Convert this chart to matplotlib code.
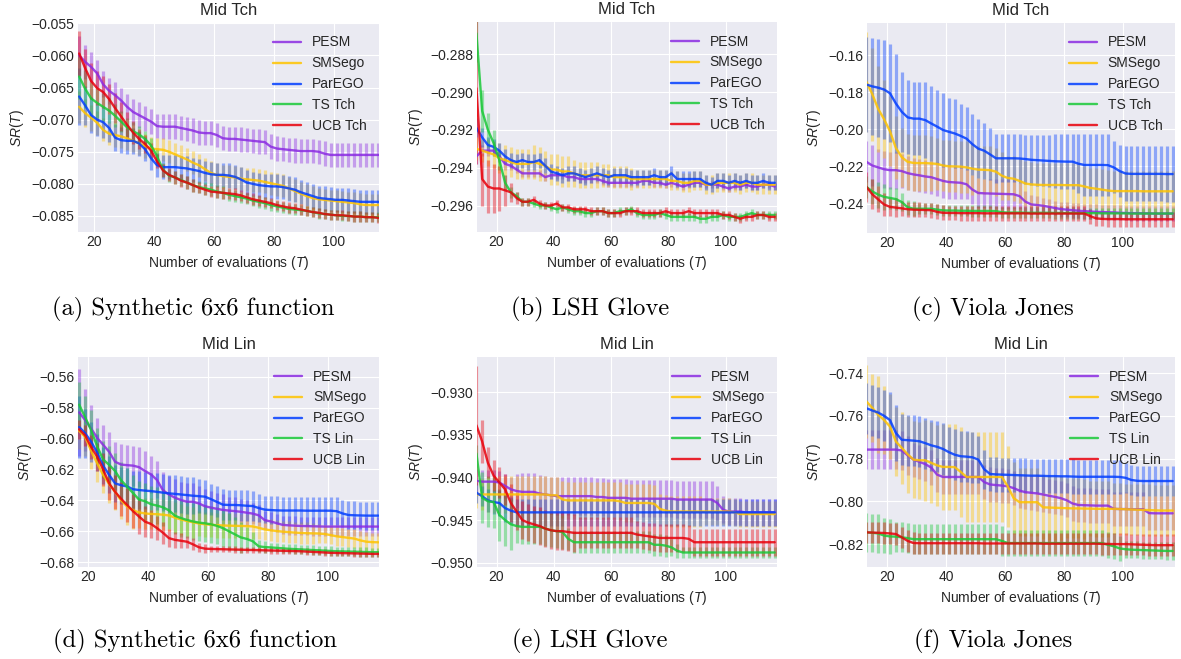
import numpy as np
import matplotlib
matplotlib.use("Agg")
import matplotlib.pyplot as plt
from matplotlib.ticker import MultipleLocator, ScalarFormatter

# simple regret curves, 6 runs: Tchebyshev row on top, linear row below
# every list is sampled every 2 evaluations

# ---- (a) synthetic 6x6, Tch, x = 15..115
a_pesm = [-0.0600, -0.0610, -0.0618, -0.0628, -0.0645, -0.0655, -0.0662, -0.0670, -0.0680, -0.0688,
          -0.0693, -0.0698, -0.0703, -0.0710, -0.0711, -0.0711, -0.0711, -0.0713, -0.0715, -0.0717,
          -0.0720, -0.0721, -0.0721, -0.0724, -0.0729, -0.0730, -0.0730, -0.0731, -0.0732, -0.0733,
          -0.0734, -0.0735, -0.0742, -0.0745, -0.0746, -0.0747, -0.0748, -0.0749, -0.0749, -0.0749,
          -0.0750, -0.0753, -0.0755, -0.0755, -0.0755, -0.0755, -0.0755, -0.0755, -0.0755, -0.0755,
          -0.0755]
a_pesm_err = [0.0030, 0.0027, 0.0023, 0.0021, 0.0020, 0.0020, 0.0020, 0.0020, 0.0020, 0.0020,
              0.0020, 0.0020, 0.0019, 0.0019, 0.0019, 0.0019, 0.0019, 0.0019, 0.0019, 0.0019,
              0.0019, 0.0019, 0.0019, 0.0019, 0.0019, 0.0019, 0.0019, 0.0019, 0.0019, 0.0019,
              0.0019, 0.0019, 0.0019, 0.0019, 0.0019, 0.0019, 0.0019, 0.0019, 0.0019, 0.0019,
              0.0019, 0.0019, 0.0019, 0.0019, 0.0019, 0.0019, 0.0019, 0.0019, 0.0019, 0.0019,
              0.0019]
a_smsego = [-0.0680, -0.0690, -0.0697, -0.0705, -0.0716, -0.0722, -0.0724, -0.0726, -0.0729, -0.0733,
            -0.0737, -0.0741, -0.0745, -0.0746, -0.0747, -0.0750, -0.0754, -0.0758, -0.0762, -0.0767,
            -0.0771, -0.0777, -0.0783, -0.0786, -0.0788, -0.0789, -0.0790, -0.0792, -0.0793, -0.0794,
            -0.0795, -0.0797, -0.0799, -0.0801, -0.0803, -0.0807, -0.0811, -0.0815, -0.0819, -0.0822,
            -0.0824, -0.0825, -0.0826, -0.0827, -0.0828, -0.0829, -0.0830, -0.0832, -0.0833, -0.0833,
            -0.0833]
a_smsego_err = [0.0025, 0.0022, 0.0020, 0.0019, 0.0018, 0.0018, 0.0018, 0.0018, 0.0018, 0.0018,
                0.0018, 0.0018, 0.0018, 0.0018, 0.0018, 0.0018, 0.0018, 0.0018, 0.0018, 0.0018,
                0.0018, 0.0018, 0.0018, 0.0018, 0.0018, 0.0018, 0.0018, 0.0018, 0.0018, 0.0018,
                0.0018, 0.0018, 0.0018, 0.0018, 0.0018, 0.0018, 0.0018, 0.0018, 0.0018, 0.0018,
                0.0017, 0.0017, 0.0017, 0.0017, 0.0017, 0.0017, 0.0017, 0.0017, 0.0017, 0.0017,
                0.0017]
a_parego = [-0.0664, -0.0678, -0.0693, -0.0700, -0.0704, -0.0713, -0.0728, -0.0732, -0.0733, -0.0733,
            -0.0737, -0.0746, -0.0760, -0.0771, -0.0774, -0.0774, -0.0774, -0.0775, -0.0776, -0.0778,
            -0.0780, -0.0783, -0.0785, -0.0786, -0.0786, -0.0787, -0.0789, -0.0793, -0.0798, -0.0800,
            -0.0802, -0.0803, -0.0804, -0.0804, -0.0805, -0.0807, -0.0809, -0.0813, -0.0816, -0.0819,
            -0.0822, -0.0823, -0.0824, -0.0825, -0.0825, -0.0826, -0.0827, -0.0828, -0.0828, -0.0828,
            -0.0828]
a_parego_err = [0.0045, 0.0030, 0.0028, 0.0026, 0.0024, 0.0022, 0.0021, 0.0020, 0.0020, 0.0020,
                0.0019, 0.0019, 0.0019, 0.0019, 0.0019, 0.0019, 0.0019, 0.0019, 0.0019, 0.0019,
                0.0019, 0.0019, 0.0019, 0.0019, 0.0019, 0.0019, 0.0019, 0.0019, 0.0019, 0.0019,
                0.0019, 0.0019, 0.0019, 0.0019, 0.0019, 0.0019, 0.0019, 0.0019, 0.0019, 0.0019,
                0.0019, 0.0019, 0.0019, 0.0019, 0.0019, 0.0019, 0.0019, 0.0019, 0.0019, 0.0019,
                0.0019]
a_ts = [-0.0633, -0.0652, -0.0667, -0.0674, -0.0680, -0.0686, -0.0694, -0.0703, -0.0712, -0.0718,
        -0.0723, -0.0730, -0.0740, -0.0757, -0.0778, -0.0787, -0.0790, -0.0794, -0.0798, -0.0802,
        -0.0805, -0.0807, -0.0809, -0.0812, -0.0814, -0.0817, -0.0819, -0.0821, -0.0823, -0.0826,
        -0.0828, -0.0830, -0.0833, -0.0835, -0.0837, -0.0839, -0.0840, -0.0841, -0.0842, -0.0844,
        -0.0846, -0.0847, -0.0848, -0.0849, -0.0850, -0.0850, -0.0851, -0.0851, -0.0852, -0.0852,
        -0.0852]
a_ts_err = [0.0035, 0.0030, 0.0026, 0.0024, 0.0022, 0.0020, 0.0018, 0.0016, 0.0015, 0.0014,
            0.0013, 0.0012, 0.0012, 0.0011, 0.0011, 0.0010, 0.0010, 0.0010, 0.0010, 0.0010,
            0.0010, 0.0010, 0.0010, 0.0010, 0.0010, 0.0009, 0.0009, 0.0009, 0.0009, 0.0009,
            0.0009, 0.0009, 0.0009, 0.0009, 0.0009, 0.0008, 0.0008, 0.0008, 0.0008, 0.0008,
            0.0008, 0.0008, 0.0008, 0.0008, 0.0008, 0.0008, 0.0008, 0.0008, 0.0008, 0.0008,
            0.0008]
a_ucb = [-0.0597, -0.0620, -0.0640, -0.0651, -0.0657, -0.0668, -0.0682, -0.0695, -0.0708, -0.0720,
         -0.0730, -0.0738, -0.0748, -0.0765, -0.0779, -0.0786, -0.0790, -0.0795, -0.0798, -0.0802,
         -0.0806, -0.0809, -0.0812, -0.0813, -0.0814, -0.0815, -0.0816, -0.0818, -0.0821, -0.0824,
         -0.0826, -0.0828, -0.0830, -0.0833, -0.0835, -0.0837, -0.0838, -0.0840, -0.0842, -0.0844,
         -0.0845, -0.0847, -0.0848, -0.0849, -0.0849, -0.0850, -0.0851, -0.0851, -0.0852, -0.0852,
         -0.0853]
a_ucb_err = [0.0035, 0.0030, 0.0028, 0.0026, 0.0025, 0.0024, 0.0023, 0.0022, 0.0020, 0.0018,
             0.0016, 0.0014, 0.0012, 0.0011, 0.0010, 0.0010, 0.0010, 0.0010, 0.0010, 0.0010,
             0.0009, 0.0009, 0.0009, 0.0009, 0.0009, 0.0009, 0.0009, 0.0009, 0.0009, 0.0009,
             0.0008, 0.0008, 0.0008, 0.0008, 0.0008, 0.0008, 0.0008, 0.0008, 0.0008, 0.0008,
             0.0008, 0.0008, 0.0008, 0.0008, 0.0008, 0.0008, 0.0008, 0.0008, 0.0008, 0.0008,
             0.0008]

# ---- (b) LSH Glove, Tch, x = 13..117
b_pesm = [-0.2934, -0.2931, -0.2931, -0.2931, -0.2934, -0.2938, -0.2939, -0.2941, -0.2943, -0.2943,
          -0.2943, -0.2943, -0.2945, -0.2944, -0.2944, -0.2944, -0.2945, -0.2945, -0.2946, -0.2946,
          -0.2946, -0.2946, -0.2947, -0.2948, -0.2948, -0.2948, -0.2948, -0.2948, -0.2948, -0.2947,
          -0.2947, -0.2948, -0.2948, -0.2949, -0.2948, -0.2949, -0.2950, -0.2949, -0.2948, -0.2948,
          -0.2949, -0.2949, -0.2949, -0.2950, -0.2951, -0.2950, -0.2950, -0.2949, -0.2950, -0.2950,
          -0.2949, -0.2949, -0.2950]
b_pesm_err = [0.0004, 0.0003, 0.0003, 0.0003, 0.0003, 0.0003, 0.0002, 0.0002, 0.0002, 0.0002,
              0.0002, 0.0002, 0.0002, 0.0002, 0.0002, 0.0002, 0.0002, 0.0002, 0.0002, 0.0002,
              0.0002, 0.0002, 0.0002, 0.0002, 0.0002, 0.0002, 0.0002, 0.0002, 0.0002, 0.0002,
              0.0002, 0.0002, 0.0002, 0.0002, 0.0002, 0.0002, 0.0002, 0.0002, 0.0002, 0.0002,
              0.0002, 0.0002, 0.0002, 0.0002, 0.0002, 0.0002, 0.0002, 0.0002, 0.0002, 0.0002,
              0.0002, 0.0002, 0.0002]
b_smsego = [-0.2930, -0.2931, -0.2932, -0.2933, -0.2935, -0.2936, -0.2937, -0.2938, -0.2938, -0.2938,
            -0.2937, -0.2938, -0.2939, -0.2941, -0.2941, -0.2942, -0.2942, -0.2943, -0.2944, -0.2944,
            -0.2944, -0.2944, -0.2944, -0.2944, -0.2945, -0.2945, -0.2945, -0.2946, -0.2946, -0.2946,
            -0.2946, -0.2946, -0.2946, -0.2946, -0.2947, -0.2947, -0.2948, -0.2948, -0.2947, -0.2947,
            -0.2949, -0.2949, -0.2948, -0.2948, -0.2948, -0.2948, -0.2949, -0.2948, -0.2948, -0.2949,
            -0.2949, -0.2949, -0.2949]
b_smsego_err = [0.0006, 0.0006, 0.0007, 0.0007, 0.0008, 0.0008, 0.0008, 0.0008, 0.0008, 0.0008,
                0.0009, 0.0009, 0.0008, 0.0008, 0.0008, 0.0008, 0.0008, 0.0007, 0.0007, 0.0007,
                0.0007, 0.0007, 0.0006, 0.0006, 0.0006, 0.0006, 0.0006, 0.0006, 0.0005, 0.0005,
                0.0005, 0.0005, 0.0005, 0.0005, 0.0005, 0.0005, 0.0005, 0.0005, 0.0005, 0.0005,
                0.0005, 0.0005, 0.0005, 0.0005, 0.0005, 0.0005, 0.0005, 0.0005, 0.0005, 0.0005,
                0.0005, 0.0005, 0.0005]
b_parego = [-0.2919, -0.2924, -0.2928, -0.2929, -0.2931, -0.2934, -0.2936, -0.2937, -0.2936, -0.2937,
            -0.2937, -0.2936, -0.2939, -0.2942, -0.2943, -0.2944, -0.2943, -0.2943, -0.2944, -0.2945,
            -0.2944, -0.2943, -0.2944, -0.2945, -0.2944, -0.2944, -0.2944, -0.2945, -0.2945, -0.2945,
            -0.2945, -0.2944, -0.2945, -0.2945, -0.2943, -0.2946, -0.2946, -0.2946, -0.2946, -0.2946,
            -0.2948, -0.2949, -0.2947, -0.2947, -0.2948, -0.2947, -0.2948, -0.2947, -0.2948, -0.2948,
            -0.2947, -0.2948, -0.2948]
b_parego_err = [0.0005, 0.0005, 0.0004, 0.0004, 0.0004, 0.0004, 0.0004, 0.0004, 0.0004, 0.0004,
                0.0004, 0.0004, 0.0004, 0.0004, 0.0004, 0.0004, 0.0004, 0.0004, 0.0004, 0.0004,
                0.0004, 0.0004, 0.0004, 0.0004, 0.0004, 0.0004, 0.0004, 0.0004, 0.0004, 0.0004,
                0.0004, 0.0004, 0.0004, 0.0004, 0.0004, 0.0004, 0.0004, 0.0004, 0.0004, 0.0004,
                0.0004, 0.0004, 0.0004, 0.0004, 0.0004, 0.0004, 0.0004, 0.0004, 0.0004, 0.0004,
                0.0004, 0.0004, 0.0004]
b_ts = [-0.2869, -0.2910, -0.2920, -0.2927, -0.2936, -0.2948, -0.2953, -0.2955, -0.2958, -0.2958,
        -0.2959, -0.2960, -0.2960, -0.2961, -0.2962, -0.2961, -0.2962, -0.2963, -0.2963, -0.2964,
        -0.2964, -0.2963, -0.2963, -0.2964, -0.2964, -0.2963, -0.2963, -0.2962, -0.2964, -0.2965,
        -0.2965, -0.2965, -0.2964, -0.2965, -0.2966, -0.2966, -0.2966, -0.2966, -0.2966, -0.2967,
        -0.2967, -0.2966, -0.2966, -0.2965, -0.2966, -0.2966, -0.2966, -0.2965, -0.2964, -0.2965,
        -0.2965, -0.2965, -0.2965]
b_ts_err = [0.0015, 0.0011, 0.0009, 0.0007, 0.0005, 0.0004, 0.0003, 0.0002, 0.0002, 0.0002,
            0.0002, 0.0002, 0.0002, 0.0002, 0.0002, 0.0002, 0.0002, 0.0002, 0.0002, 0.0002,
            0.0002, 0.0002, 0.0002, 0.0002, 0.0002, 0.0002, 0.0002, 0.0002, 0.0002, 0.0002,
            0.0002, 0.0002, 0.0002, 0.0002, 0.0002, 0.0002, 0.0002, 0.0002, 0.0002, 0.0002,
            0.0002, 0.0002, 0.0002, 0.0002, 0.0002, 0.0002, 0.0002, 0.0002, 0.0002, 0.0002,
            0.0002, 0.0002, 0.0002]
b_ucb = [-0.2898, -0.2946, -0.2950, -0.2951, -0.2951, -0.2952, -0.2953, -0.2956, -0.2958, -0.2958,
         -0.2957, -0.2959, -0.2960, -0.2960, -0.2959, -0.2961, -0.2961, -0.2962, -0.2962, -0.2962,
         -0.2963, -0.2963, -0.2963, -0.2964, -0.2964, -0.2964, -0.2963, -0.2963, -0.2963, -0.2964,
         -0.2964, -0.2964, -0.2964, -0.2963, -0.2964, -0.2964, -0.2964, -0.2963, -0.2964, -0.2964,
         -0.2964, -0.2964, -0.2964, -0.2965, -0.2965, -0.2966, -0.2967, -0.2966, -0.2966, -0.2965,
         -0.2965, -0.2966, -0.2966]
b_ucb_err = [0.0040, 0.0014, 0.0014, 0.0013, 0.0012, 0.0008, 0.0005, 0.0003, 0.0002, 0.0002,
             0.0002, 0.0002, 0.0002, 0.0002, 0.0002, 0.0002, 0.0002, 0.0002, 0.0002, 0.0002,
             0.0002, 0.0002, 0.0002, 0.0002, 0.0002, 0.0002, 0.0002, 0.0002, 0.0002, 0.0002,
             0.0002, 0.0002, 0.0002, 0.0002, 0.0002, 0.0002, 0.0002, 0.0002, 0.0002, 0.0002,
             0.0002, 0.0002, 0.0002, 0.0002, 0.0002, 0.0002, 0.0002, 0.0002, 0.0002, 0.0002,
             0.0002, 0.0002, 0.0002]

# ---- (c) Viola Jones, Tch, x = 13..117
c_pesm = [-0.2175, -0.2195, -0.2205, -0.2215, -0.2220, -0.2220, -0.2225, -0.2236, -0.2243, -0.2248,
          -0.2254, -0.2258, -0.2268, -0.2278, -0.2284, -0.2286, -0.2288, -0.2296, -0.2325, -0.2343,
          -0.2345, -0.2346, -0.2347, -0.2348, -0.2349, -0.2350, -0.2360, -0.2390, -0.2405, -0.2408,
          -0.2412, -0.2418, -0.2424, -0.2430, -0.2433, -0.2436, -0.2439, -0.2441, -0.2443, -0.2445,
          -0.2446, -0.2447, -0.2448, -0.2450, -0.2451, -0.2452, -0.2452, -0.2453, -0.2453, -0.2454,
          -0.2454, -0.2454, -0.2454]
c_pesm_err = [0.011, 0.011, 0.010, 0.010, 0.010, 0.010, 0.009, 0.009, 0.009, 0.009,
              0.009, 0.009, 0.009, 0.009, 0.009, 0.009, 0.009, 0.008, 0.008, 0.008,
              0.008, 0.008, 0.008, 0.008, 0.008, 0.008, 0.007, 0.006, 0.005, 0.005,
              0.004, 0.004, 0.004, 0.004, 0.004, 0.004, 0.004, 0.004, 0.004, 0.004,
              0.004, 0.004, 0.004, 0.004, 0.004, 0.004, 0.004, 0.004, 0.004, 0.004,
              0.004, 0.004, 0.004]
c_smsego = [-0.1744, -0.1810, -0.1890, -0.1945, -0.2010, -0.2100, -0.2150, -0.2175, -0.2181, -0.2182,
            -0.2182, -0.2184, -0.2186, -0.2195, -0.2199, -0.2200, -0.2201, -0.2205, -0.2212, -0.2217,
            -0.2218, -0.2220, -0.2228, -0.2250, -0.2262, -0.2266, -0.2278, -0.2292, -0.2297, -0.2299,
            -0.2300, -0.2300, -0.2300, -0.2300, -0.2301, -0.2301, -0.2301, -0.2308, -0.2316, -0.2320,
            -0.2325, -0.2330, -0.2333, -0.2333, -0.2333, -0.2333, -0.2333, -0.2334, -0.2334, -0.2334,
            -0.2334, -0.2334, -0.2334]
c_smsego_err = [0.027, 0.025, 0.023, 0.021, 0.019, 0.017, 0.016, 0.015, 0.015, 0.015,
                0.015, 0.015, 0.014, 0.014, 0.014, 0.014, 0.014, 0.014, 0.014, 0.013,
                0.013, 0.013, 0.013, 0.013, 0.012, 0.012, 0.012, 0.012, 0.012, 0.012,
                0.012, 0.012, 0.012, 0.012, 0.012, 0.012, 0.012, 0.011, 0.011, 0.011,
                0.011, 0.011, 0.011, 0.011, 0.011, 0.011, 0.011, 0.011, 0.011, 0.011,
                0.011, 0.011, 0.011]
c_parego = [-0.1758, -0.1768, -0.1775, -0.1785, -0.1805, -0.1860, -0.1905, -0.1935, -0.1942, -0.1942,
            -0.1950, -0.1968, -0.1985, -0.2003, -0.2013, -0.2022, -0.2035, -0.2050, -0.2080, -0.2104,
            -0.2115, -0.2135, -0.2156, -0.2156, -0.2156, -0.2156, -0.2157, -0.2160, -0.2164, -0.2166,
            -0.2168, -0.2170, -0.2172, -0.2173, -0.2174, -0.2174, -0.2185, -0.2192, -0.2192, -0.2192,
            -0.2192, -0.2193, -0.2205, -0.2225, -0.2238, -0.2240, -0.2240, -0.2240, -0.2240, -0.2240,
            -0.2240, -0.2241, -0.2241]
c_parego_err = [0.0257, 0.0263, 0.0265, 0.0266, 0.0264, 0.0265, 0.0215, 0.0200, 0.0198, 0.0198,
                0.0206, 0.0203, 0.0200, 0.0200, 0.0185, 0.0186, 0.0174, 0.0170, 0.0165, 0.0160,
                0.0150, 0.0140, 0.0132, 0.0130, 0.0130, 0.0130, 0.0130, 0.0132, 0.0135, 0.0137,
                0.0140, 0.0142, 0.0145, 0.0146, 0.0148, 0.0148, 0.0158, 0.0165, 0.0165, 0.0165,
                0.0165, 0.0166, 0.0140, 0.0140, 0.0146, 0.0148, 0.0148, 0.0148, 0.0148, 0.0148,
                0.0148, 0.0149, 0.0149]
c_ts = [-0.2310, -0.2335, -0.2352, -0.2364, -0.2370, -0.2376, -0.2392, -0.2420, -0.2428, -0.2428,
        -0.2428, -0.2428, -0.2433, -0.2437, -0.2438, -0.2438, -0.2439, -0.2439, -0.2440, -0.2440,
        -0.2440, -0.2440, -0.2441, -0.2447, -0.2449, -0.2449, -0.2449, -0.2450, -0.2450, -0.2450,
        -0.2450, -0.2450, -0.2451, -0.2451, -0.2451, -0.2451, -0.2452, -0.2452, -0.2452, -0.2452,
        -0.2453, -0.2453, -0.2453, -0.2453, -0.2453, -0.2454, -0.2454, -0.2454, -0.2454, -0.2454,
        -0.2454, -0.2454, -0.2454]
c_ts_err = [0.006, 0.007, 0.007, 0.007, 0.006, 0.006, 0.005, 0.004, 0.004, 0.003,
            0.003, 0.003, 0.003, 0.003, 0.003, 0.003, 0.003, 0.003, 0.003, 0.003,
            0.003, 0.003, 0.003, 0.003, 0.003, 0.003, 0.003, 0.003, 0.003, 0.003,
            0.003, 0.003, 0.003, 0.003, 0.003, 0.003, 0.003, 0.003, 0.003, 0.003,
            0.003, 0.003, 0.003, 0.003, 0.003, 0.003, 0.003, 0.003, 0.003, 0.003,
            0.003, 0.003, 0.003]
c_ucb = [-0.2310, -0.2350, -0.2378, -0.2405, -0.2418, -0.2422, -0.2426, -0.2431, -0.2433, -0.2434,
         -0.2435, -0.2436, -0.2445, -0.2450, -0.2451, -0.2451, -0.2452, -0.2452, -0.2452, -0.2452,
         -0.2453, -0.2453, -0.2453, -0.2453, -0.2453, -0.2453, -0.2453, -0.2453, -0.2454, -0.2454,
         -0.2454, -0.2454, -0.2454, -0.2454, -0.2454, -0.2454, -0.2454, -0.2454, -0.2468, -0.2480,
         -0.2483, -0.2484, -0.2484, -0.2484, -0.2485, -0.2485, -0.2485, -0.2485, -0.2485, -0.2485,
         -0.2485, -0.2485, -0.2485]
c_ucb_err = [0.008, 0.008, 0.007, 0.006, 0.005, 0.005, 0.004, 0.004, 0.004, 0.004,
             0.004, 0.004, 0.004, 0.004, 0.004, 0.004, 0.004, 0.004, 0.004, 0.004,
             0.004, 0.004, 0.004, 0.004, 0.004, 0.004, 0.004, 0.004, 0.004, 0.004,
             0.004, 0.004, 0.004, 0.004, 0.004, 0.004, 0.004, 0.004, 0.004, 0.004,
             0.004, 0.004, 0.004, 0.004, 0.004, 0.004, 0.004, 0.004, 0.004, 0.004,
             0.004, 0.004, 0.004]

# ---- (d) synthetic 6x6, Lin, x = 17..117
d_pesm = [-0.5830, -0.5880, -0.5935, -0.5995, -0.6040, -0.6085, -0.6150, -0.6168, -0.6172, -0.6175,
          -0.6185, -0.6210, -0.6232, -0.6268, -0.6335, -0.6362, -0.6383, -0.6398, -0.6409, -0.6409,
          -0.6420, -0.6438, -0.6447, -0.6455, -0.6462, -0.6466, -0.6470, -0.6474, -0.6480, -0.6486,
          -0.6497, -0.6528, -0.6537, -0.6548, -0.6559, -0.6562, -0.6564, -0.6566, -0.6567, -0.6568,
          -0.6569, -0.6570, -0.6570, -0.6570, -0.6570, -0.6570, -0.6570, -0.6570, -0.6570, -0.6570,
          -0.6570]
d_pesm_err = [0.028, 0.020, 0.015, 0.013, 0.013, 0.013, 0.013, 0.013, 0.013, 0.013,
              0.013, 0.013, 0.012, 0.012, 0.012, 0.012, 0.012, 0.012, 0.012, 0.012,
              0.011, 0.011, 0.011, 0.010, 0.010, 0.009, 0.009, 0.008, 0.008, 0.007,
              0.007, 0.006, 0.006, 0.006, 0.006, 0.006, 0.006, 0.006, 0.006, 0.006,
              0.006, 0.006, 0.006, 0.006, 0.006, 0.006, 0.006, 0.006, 0.006, 0.006,
              0.006]
d_smsego = [-0.5950, -0.5990, -0.6080, -0.6160, -0.6235, -0.6295, -0.6345, -0.6400, -0.6440, -0.6465,
            -0.6478, -0.6485, -0.6488, -0.6490, -0.6493, -0.6498, -0.6512, -0.6524, -0.6534, -0.6542,
            -0.6550, -0.6555, -0.6558, -0.6561, -0.6563, -0.6564, -0.6565, -0.6566, -0.6567, -0.6569,
            -0.6578, -0.6588, -0.6594, -0.6599, -0.6603, -0.6606, -0.6609, -0.6611, -0.6613, -0.6614,
            -0.6615, -0.6618, -0.6625, -0.6633, -0.6638, -0.6643, -0.6648, -0.6660, -0.6668, -0.6671,
            -0.6672]
d_smsego_err = [0.012, 0.012, 0.012, 0.012, 0.012, 0.012, 0.012, 0.012, 0.012, 0.012,
                0.010, 0.010, 0.010, 0.010, 0.010, 0.010, 0.010, 0.010, 0.010, 0.010,
                0.008, 0.008, 0.008, 0.008, 0.008, 0.008, 0.008, 0.008, 0.008, 0.008,
                0.007, 0.007, 0.007, 0.007, 0.007, 0.007, 0.007, 0.007, 0.007, 0.007,
                0.006, 0.006, 0.006, 0.006, 0.006, 0.006, 0.006, 0.006, 0.006, 0.006,
                0.006]
d_parego = [-0.5925, -0.5965, -0.6020, -0.6090, -0.6175, -0.6235, -0.6290, -0.6302, -0.6310, -0.6328,
            -0.6333, -0.6337, -0.6340, -0.6345, -0.6350, -0.6355, -0.6358, -0.6362, -0.6366, -0.6370,
            -0.6373, -0.6376, -0.6392, -0.6410, -0.6428, -0.6430, -0.6430, -0.6432, -0.6435, -0.6437,
            -0.6450, -0.6460, -0.6463, -0.6465, -0.6466, -0.6466, -0.6466, -0.6466, -0.6467, -0.6467,
            -0.6467, -0.6467, -0.6467, -0.6470, -0.6485, -0.6495, -0.6497, -0.6498, -0.6499, -0.6499,
            -0.6499]
d_parego_err = [0.020, 0.016, 0.013, 0.012, 0.012, 0.012, 0.012, 0.012, 0.012, 0.012,
                0.012, 0.012, 0.012, 0.012, 0.012, 0.012, 0.012, 0.012, 0.012, 0.012,
                0.011, 0.011, 0.010, 0.010, 0.010, 0.010, 0.010, 0.010, 0.010, 0.010,
                0.009, 0.009, 0.009, 0.009, 0.009, 0.009, 0.009, 0.009, 0.009, 0.009,
                0.009, 0.009, 0.009, 0.009, 0.009, 0.009, 0.009, 0.009, 0.009, 0.009,
                0.009]
d_ts = [-0.5780, -0.5862, -0.5945, -0.6050, -0.6135, -0.6170, -0.6210, -0.6270, -0.6311, -0.6353,
        -0.6395, -0.6406, -0.6425, -0.6434, -0.6445, -0.6465, -0.6500, -0.6515, -0.6527, -0.6537,
        -0.6544, -0.6549, -0.6555, -0.6565, -0.6580, -0.6600, -0.6620, -0.6640, -0.6650, -0.6665,
        -0.6698, -0.6703, -0.6705, -0.6708, -0.6711, -0.6714, -0.6716, -0.6718, -0.6720, -0.6722,
        -0.6724, -0.6726, -0.6728, -0.6730, -0.6731, -0.6732, -0.6733, -0.6734, -0.6735, -0.6736,
        -0.6736]
d_ts_err = [0.015, 0.014, 0.013, 0.012, 0.012, 0.012, 0.012, 0.012, 0.012, 0.012,
            0.012, 0.012, 0.012, 0.012, 0.012, 0.012, 0.012, 0.012, 0.012, 0.012,
            0.012, 0.012, 0.012, 0.012, 0.012, 0.012, 0.011, 0.010, 0.008, 0.006,
            0.004, 0.004, 0.003, 0.003, 0.003, 0.003, 0.003, 0.003, 0.003, 0.003,
            0.003, 0.003, 0.003, 0.003, 0.003, 0.003, 0.003, 0.003, 0.003, 0.003,
            0.003]
d_ucb = [-0.5940, -0.5980, -0.6055, -0.6117, -0.6200, -0.6290, -0.6345, -0.6390, -0.6430, -0.6470,
         -0.6505, -0.6538, -0.6553, -0.6580, -0.6610, -0.6645, -0.6656, -0.6662, -0.6668, -0.6685,
         -0.6704, -0.6713, -0.6715, -0.6716, -0.6717, -0.6718, -0.6719, -0.6720, -0.6721, -0.6722,
         -0.6723, -0.6724, -0.6725, -0.6726, -0.6727, -0.6728, -0.6729, -0.6730, -0.6732, -0.6734,
         -0.6736, -0.6738, -0.6740, -0.6741, -0.6742, -0.6743, -0.6744, -0.6745, -0.6746, -0.6747,
         -0.6747]
d_ucb_err = [0.006, 0.007, 0.008, 0.009, 0.011, 0.011, 0.011, 0.011, 0.011, 0.011,
             0.011, 0.010, 0.009, 0.008, 0.007, 0.006, 0.005, 0.005, 0.004, 0.004,
             0.003, 0.003, 0.002, 0.002, 0.002, 0.002, 0.002, 0.002, 0.002, 0.002,
             0.002, 0.002, 0.002, 0.002, 0.002, 0.002, 0.002, 0.002, 0.002, 0.002,
             0.002, 0.002, 0.002, 0.002, 0.002, 0.002, 0.002, 0.002, 0.002, 0.002,
             0.002]

# ---- (e) LSH Glove, Lin, x = 13..117
e_pesm = [-0.9404, -0.9405, -0.9405, -0.9405, -0.9406, -0.9410, -0.9414, -0.9416, -0.9417, -0.9417,
          -0.9417, -0.9419, -0.9420, -0.9421, -0.9422, -0.9422, -0.9422, -0.9422, -0.9422, -0.9422,
          -0.9422, -0.9423, -0.9423, -0.9424, -0.9424, -0.9424, -0.9424, -0.9425, -0.9425, -0.9425,
          -0.9425, -0.9425, -0.9425, -0.9425, -0.9425, -0.9426, -0.9426, -0.9426, -0.9426, -0.9426,
          -0.9426, -0.9426, -0.9430, -0.9438, -0.9440, -0.9440, -0.9440, -0.9441, -0.9441, -0.9441,
          -0.9441, -0.9441, -0.9441]
e_pesm_err = [0.0014, 0.0014, 0.0014, 0.0014, 0.0014, 0.0014, 0.0014, 0.0020, 0.0022, 0.0022,
              0.0022, 0.0022, 0.0022, 0.0022, 0.0022, 0.0022, 0.0022, 0.0022, 0.0022, 0.0022,
              0.0022, 0.0022, 0.0022, 0.0022, 0.0022, 0.0022, 0.0022, 0.0022, 0.0022, 0.0022,
              0.0022, 0.0022, 0.0022, 0.0022, 0.0022, 0.0022, 0.0022, 0.0022, 0.0022, 0.0022,
              0.0022, 0.0022, 0.0020, 0.0016, 0.0016, 0.0016, 0.0016, 0.0016, 0.0016, 0.0016,
              0.0016, 0.0016, 0.0016]
e_smsego = [-0.9420, -0.9420, -0.9420, -0.9420, -0.9420, -0.9420, -0.9420, -0.9420, -0.9420, -0.9420,
            -0.9420, -0.9420, -0.9420, -0.9421, -0.9421, -0.9426, -0.9427, -0.9427, -0.9427, -0.9427,
            -0.9427, -0.9427, -0.9427, -0.9427, -0.9427, -0.9428, -0.9430, -0.9430, -0.9430, -0.9430,
            -0.9430, -0.9431, -0.9437, -0.9439, -0.9440, -0.9440, -0.9440, -0.9440, -0.9440, -0.9440,
            -0.9440, -0.9440, -0.9440, -0.9440, -0.9440, -0.9441, -0.9443, -0.9443, -0.9443, -0.9443,
            -0.9443, -0.9443, -0.9443]
e_smsego_err = [0.0016, 0.0018, 0.0020, 0.0022, 0.0022, 0.0022, 0.0022, 0.0022, 0.0022, 0.0022,
                0.0022, 0.0022, 0.0022, 0.0022, 0.0022, 0.0022, 0.0022, 0.0022, 0.0022, 0.0022,
                0.0022, 0.0022, 0.0022, 0.0022, 0.0022, 0.0022, 0.0022, 0.0022, 0.0022, 0.0022,
                0.0022, 0.0022, 0.0018, 0.0018, 0.0018, 0.0018, 0.0018, 0.0018, 0.0018, 0.0018,
                0.0016, 0.0016, 0.0016, 0.0016, 0.0016, 0.0016, 0.0015, 0.0015, 0.0015, 0.0015,
                0.0015, 0.0015, 0.0015]
e_parego = [-0.9418, -0.9422, -0.9427, -0.9429, -0.9430, -0.9436, -0.9439, -0.9441, -0.9441, -0.9441,
            -0.9441, -0.9441, -0.9441, -0.9441, -0.9441, -0.9441, -0.9441, -0.9441, -0.9441, -0.9441,
            -0.9441, -0.9441, -0.9441, -0.9441, -0.9441, -0.9441, -0.9441, -0.9441, -0.9441, -0.9441,
            -0.9441, -0.9441, -0.9441, -0.9441, -0.9441, -0.9441, -0.9441, -0.9441, -0.9441, -0.9441,
            -0.9441, -0.9441, -0.9441, -0.9441, -0.9441, -0.9441, -0.9441, -0.9441, -0.9441, -0.9441,
            -0.9441, -0.9441, -0.9441]
e_parego_err = [0.0012, 0.0012, 0.0013, 0.0014, 0.0015, 0.0016, 0.0016, 0.0016, 0.0016, 0.0016,
                0.0016, 0.0016, 0.0016, 0.0016, 0.0016, 0.0016, 0.0016, 0.0016, 0.0016, 0.0016,
                0.0016, 0.0016, 0.0016, 0.0016, 0.0016, 0.0016, 0.0016, 0.0016, 0.0016, 0.0016,
                0.0016, 0.0016, 0.0016, 0.0016, 0.0016, 0.0016, 0.0016, 0.0016, 0.0016, 0.0016,
                0.0016, 0.0016, 0.0016, 0.0016, 0.0016, 0.0016, 0.0016, 0.0016, 0.0016, 0.0016,
                0.0016, 0.0016, 0.0016]
e_ts = [-0.9372, -0.9424, -0.9428, -0.9429, -0.9444, -0.9450, -0.9455, -0.9457, -0.9458, -0.9458,
        -0.9458, -0.9458, -0.9460, -0.9462, -0.9463, -0.9464, -0.9472, -0.9476, -0.9476, -0.9476,
        -0.9476, -0.9476, -0.9476, -0.9476, -0.9476, -0.9476, -0.9476, -0.9476, -0.9476, -0.9476,
        -0.9476, -0.9479, -0.9479, -0.9480, -0.9482, -0.9486, -0.9488, -0.9488, -0.9488, -0.9488,
        -0.9488, -0.9488, -0.9488, -0.9488, -0.9488, -0.9488, -0.9488, -0.9488, -0.9488, -0.9488,
        -0.9488, -0.9488, -0.9488]
e_ts_err = [0.0010, 0.0030, 0.0030, 0.0030, 0.0030, 0.0030, 0.0030, 0.0020, 0.0020, 0.0020,
            0.0020, 0.0020, 0.0020, 0.0020, 0.0020, 0.0020, 0.0013, 0.0013, 0.0013, 0.0013,
            0.0013, 0.0013, 0.0013, 0.0013, 0.0013, 0.0013, 0.0013, 0.0013, 0.0013, 0.0013,
            0.0013, 0.0013, 0.0013, 0.0013, 0.0010, 0.0008, 0.0006, 0.0006, 0.0006, 0.0006,
            0.0006, 0.0006, 0.0006, 0.0006, 0.0006, 0.0006, 0.0006, 0.0006, 0.0006, 0.0006,
            0.0006, 0.0006, 0.0006]
e_ucb = [-0.9339, -0.9358, -0.9383, -0.9398, -0.9406, -0.9414, -0.9430, -0.9440, -0.9450, -0.9453,
         -0.9455, -0.9457, -0.9460, -0.9462, -0.9463, -0.9463, -0.9464, -0.9465, -0.9465, -0.9465,
         -0.9465, -0.9465, -0.9465, -0.9465, -0.9465, -0.9465, -0.9465, -0.9465, -0.9467, -0.9468,
         -0.9469, -0.9470, -0.9471, -0.9471, -0.9471, -0.9471, -0.9471, -0.9472, -0.9476, -0.9476,
         -0.9476, -0.9476, -0.9476, -0.9476, -0.9476, -0.9476, -0.9476, -0.9476, -0.9476, -0.9476,
         -0.9476, -0.9476, -0.9476]
e_ucb_err = [0.0070, 0.0025, 0.0018, 0.0018, 0.0018, 0.0018, 0.0022, 0.0022, 0.0022, 0.0022,
             0.0022, 0.0022, 0.0022, 0.0022, 0.0022, 0.0022, 0.0022, 0.0022, 0.0018, 0.0018,
             0.0018, 0.0018, 0.0018, 0.0018, 0.0018, 0.0018, 0.0018, 0.0018, 0.0016, 0.0016,
             0.0016, 0.0016, 0.0016, 0.0016, 0.0016, 0.0016, 0.0016, 0.0016, 0.0016, 0.0016,
             0.0016, 0.0016, 0.0016, 0.0016, 0.0016, 0.0016, 0.0016, 0.0016, 0.0016, 0.0016,
             0.0016, 0.0016, 0.0016]

# ---- (f) Viola Jones, Lin, x = 13..117
f_pesm = [-0.7758, -0.7758, -0.7758, -0.7758, -0.7758, -0.7758, -0.7762, -0.7785, -0.7805, -0.7815,
          -0.7826, -0.7842, -0.7875, -0.7886, -0.7886, -0.7886, -0.7886, -0.7886, -0.7886, -0.7886,
          -0.7910, -0.7921, -0.7924, -0.7926, -0.7930, -0.7938, -0.7950, -0.7957, -0.7960, -0.7963,
          -0.7968, -0.7974, -0.7979, -0.7985, -0.7995, -0.8010, -0.8017, -0.8018, -0.8019, -0.8020,
          -0.8020, -0.8020, -0.8035, -0.8036, -0.8036, -0.8037, -0.8037, -0.8037, -0.8055, -0.8056,
          -0.8056, -0.8056, -0.8056]
f_pesm_err = [0.009, 0.009, 0.009, 0.009, 0.009, 0.009, 0.009, 0.009, 0.008, 0.008,
              0.008, 0.008, 0.008, 0.008, 0.008, 0.008, 0.008, 0.008, 0.008, 0.008,
              0.008, 0.008, 0.008, 0.008, 0.008, 0.008, 0.008, 0.008, 0.008, 0.008,
              0.008, 0.008, 0.008, 0.008, 0.008, 0.008, 0.008, 0.008, 0.008, 0.008,
              0.008, 0.008, 0.008, 0.008, 0.008, 0.008, 0.008, 0.008, 0.008, 0.008,
              0.008, 0.008, 0.008]
f_smsego = [-0.7533, -0.7563, -0.7595, -0.7620, -0.7650, -0.7720, -0.7750, -0.7780, -0.7805, -0.7808,
            -0.7808, -0.7820, -0.7832, -0.7839, -0.7839, -0.7840, -0.7862, -0.7886, -0.7886, -0.7886,
            -0.7886, -0.7886, -0.7886, -0.7886, -0.7930, -0.7985, -0.8004, -0.8004, -0.8004, -0.8004,
            -0.8028, -0.8029, -0.8030, -0.8031, -0.8032, -0.8033, -0.8033, -0.8034, -0.8034, -0.8035,
            -0.8035, -0.8035, -0.8035, -0.8036, -0.8037, -0.8038, -0.8039, -0.8040, -0.8041, -0.8042,
            -0.8043, -0.8043, -0.8043]
f_smsego_err = [0.017, 0.016, 0.018, 0.016, 0.015, 0.016, 0.017, 0.018, 0.018, 0.018,
                0.019, 0.019, 0.019, 0.020, 0.020, 0.020, 0.021, 0.021, 0.021, 0.021,
                0.021, 0.021, 0.021, 0.021, 0.019, 0.017, 0.016, 0.016, 0.016, 0.016,
                0.015, 0.015, 0.015, 0.015, 0.014, 0.014, 0.014, 0.014, 0.013, 0.013,
                0.013, 0.013, 0.012, 0.012, 0.012, 0.012, 0.012, 0.012, 0.012, 0.012,
                0.012, 0.012, 0.012]
f_parego = [-0.7565, -0.7575, -0.7585, -0.7600, -0.7620, -0.7680, -0.7712, -0.7714, -0.7716, -0.7719,
            -0.7728, -0.7738, -0.7745, -0.7755, -0.7770, -0.7782, -0.7789, -0.7791, -0.7794, -0.7805,
            -0.7850, -0.7872, -0.7874, -0.7875, -0.7876, -0.7877, -0.7878, -0.7879, -0.7880, -0.7880,
            -0.7881, -0.7882, -0.7882, -0.7883, -0.7883, -0.7884, -0.7885, -0.7885, -0.7885, -0.7885,
            -0.7885, -0.7885, -0.7885, -0.7886, -0.7890, -0.7900, -0.7904, -0.7905, -0.7905, -0.7905,
            -0.7905, -0.7905, -0.7905]
f_parego_err = [0.012, 0.012, 0.012, 0.012, 0.013, 0.013, 0.012, 0.012, 0.012, 0.012,
                0.012, 0.012, 0.012, 0.012, 0.012, 0.012, 0.012, 0.012, 0.012, 0.011,
                0.009, 0.008, 0.008, 0.008, 0.008, 0.008, 0.008, 0.008, 0.008, 0.008,
                0.008, 0.008, 0.008, 0.008, 0.008, 0.008, 0.008, 0.008, 0.008, 0.008,
                0.008, 0.008, 0.008, 0.008, 0.007, 0.007, 0.007, 0.007, 0.007, 0.007,
                0.007, 0.007, 0.007]
f_ts = [-0.8145, -0.8147, -0.8150, -0.8160, -0.8164, -0.8165, -0.8168, -0.8172, -0.8177, -0.8177,
        -0.8177, -0.8177, -0.8177, -0.8177, -0.8177, -0.8177, -0.8177, -0.8177, -0.8177, -0.8177,
        -0.8177, -0.8177, -0.8177, -0.8185, -0.8195, -0.8195, -0.8195, -0.8195, -0.8195, -0.8195,
        -0.8195, -0.8195, -0.8195, -0.8195, -0.8195, -0.8195, -0.8195, -0.8195, -0.8195, -0.8195,
        -0.8195, -0.8203, -0.8210, -0.8220, -0.8224, -0.8226, -0.8227, -0.8228, -0.8229, -0.8230,
        -0.8231, -0.8232, -0.8232]
f_ts_err = [0.009, 0.009, 0.009, 0.008, 0.008, 0.007, 0.007, 0.007, 0.007, 0.007,
            0.007, 0.007, 0.007, 0.007, 0.007, 0.007, 0.007, 0.007, 0.007, 0.007,
            0.007, 0.007, 0.007, 0.007, 0.006, 0.006, 0.006, 0.006, 0.006, 0.006,
            0.006, 0.006, 0.006, 0.006, 0.006, 0.006, 0.006, 0.006, 0.006, 0.006,
            0.006, 0.006, 0.006, 0.006, 0.004, 0.004, 0.004, 0.004, 0.004, 0.004,
            0.004, 0.004, 0.004]
f_ucb = [-0.8145, -0.8146, -0.8147, -0.8148, -0.8150, -0.8153, -0.8168, -0.8185, -0.8195, -0.8196,
         -0.8196, -0.8196, -0.8196, -0.8196, -0.8196, -0.8196, -0.8196, -0.8196, -0.8196, -0.8196,
         -0.8197, -0.8197, -0.8197, -0.8197, -0.8197, -0.8197, -0.8197, -0.8197, -0.8197, -0.8197,
         -0.8198, -0.8198, -0.8198, -0.8198, -0.8198, -0.8198, -0.8198, -0.8198, -0.8198, -0.8198,
         -0.8199, -0.8199, -0.8200, -0.8200, -0.8200, -0.8201, -0.8202, -0.8203, -0.8204, -0.8205,
         -0.8205, -0.8205, -0.8205]
f_ucb_err = [0.005, 0.005, 0.005, 0.005, 0.005, 0.005, 0.005, 0.005, 0.005, 0.005,
             0.005, 0.005, 0.005, 0.005, 0.005, 0.005, 0.005, 0.005, 0.005, 0.005,
             0.005, 0.005, 0.005, 0.005, 0.005, 0.005, 0.005, 0.005, 0.005, 0.005,
             0.005, 0.005, 0.005, 0.005, 0.005, 0.005, 0.005, 0.005, 0.005, 0.005,
             0.005, 0.005, 0.005, 0.005, 0.005, 0.005, 0.005, 0.005, 0.005, 0.005,
             0.005, 0.005, 0.005]

captions = ["(a) Synthetic 6x6 function", "(b) LSH Glove", "(c) Viola Jones",
            "(d) Synthetic 6x6 function", "(e) LSH Glove", "(f) Viola Jones"]

COLORS = ["#8b2be2", "#ffc400", "#023eff", "#1ac938", "#e8000b"]

plt.style.use("seaborn-v0_8-darkgrid")
plt.rcParams["font.family"] = ["Liberation Sans", "DejaVu Sans"]
plt.rcParams["mathtext.fontset"] = "custom"
plt.rcParams["mathtext.rm"] = "Liberation Sans"
plt.rcParams["mathtext.it"] = "Liberation Sans:italic"
plt.rcParams["text.color"] = "#262626"
plt.rcParams["axes.labelcolor"] = "#262626"
plt.rcParams["xtick.color"] = "#262626"
plt.rcParams["ytick.color"] = "#262626"

W, H = 1181, 659
fig = plt.figure(figsize=(W / 100, H / 100), dpi=100)


def add_ax(left, top, right, bottom):
    return fig.add_axes([left / W, 1 - bottom / H, (right - left) / W, (bottom - top) / H])


def panel(ax, x0, runs, kind, xlim, ylim, ystep):
    names = ["PESM", "SMSego", "ParEGO", "TS " + kind, "UCB " + kind]
    xs = [np.arange(x0, x0 + 2 * len(m), 2) for m, _ in runs]
    for x, (m, e), c in zip(xs, runs, COLORS):
        ax.errorbar(x, m, yerr=e, fmt="none", ecolor=c, elinewidth=2.3, alpha=0.4)
    for x, (m, e), c, n in zip(xs, runs, COLORS, names):
        ax.plot(x, m, color=c, lw=1.7, alpha=0.85, label=n)
    ax.set_xlim(*xlim)
    ax.set_ylim(*ylim)
    ax.xaxis.set_major_locator(MultipleLocator(20))
    ax.yaxis.set_major_locator(MultipleLocator(ystep))
    ax.yaxis.set_major_formatter(ScalarFormatter(useOffset=False))
    ax.tick_params(labelsize=10, pad=2.5)
    ax.set_title("Mid " + kind, fontsize=12)
    ax.set_xlabel("Number of evaluations ($T$)", fontsize=10, labelpad=3)
    ax.set_ylabel("$SR(T)$", fontsize=10)
    ax.legend(loc="upper right", fontsize=10, frameon=False)


ax = add_ax(78, 23, 379, 232)
panel(ax, 15, [(a_pesm, a_pesm_err), (a_smsego, a_smsego_err), (a_parego, a_parego_err),
               (a_ts, a_ts_err), (a_ucb, a_ucb_err)], "Tch", (14.6, 115.2), (-0.0875, -0.05495), 0.005)
ax = add_ax(477, 22, 777, 232)
panel(ax, 13, [(b_pesm, b_pesm_err), (b_smsego, b_smsego_err), (b_parego, b_parego_err),
               (b_ts, b_ts_err), (b_ucb, b_ucb_err)], "Tch", (13.2, 117.8), (-0.2974, -0.2863), 0.002)
ax = add_ax(867, 23, 1175, 233)
panel(ax, 13, [(c_pesm, c_pesm_err), (c_smsego, c_smsego_err), (c_parego, c_parego_err),
               (c_ts, c_ts_err), (c_ucb, c_ucb_err)], "Tch", (13.2, 117.8), (-0.2559, -0.1426), 0.02)
ax = add_ax(78, 357, 379, 567)
panel(ax, 17, [(d_pesm, d_pesm_err), (d_smsego, d_smsego_err), (d_parego, d_parego_err),
               (d_ts, d_ts_err), (d_ucb, d_ucb_err)], "Lin", (16.6, 117.2), (-0.6832, -0.5471), 0.02)
ax = add_ax(477, 357, 777, 567)
panel(ax, 13, [(e_pesm, e_pesm_err), (e_smsego, e_smsego_err), (e_parego, e_parego_err),
               (e_ts, e_ts_err), (e_ucb, e_ucb_err)], "Lin", (13.2, 117.8), (-0.9505, -0.9259), 0.005)
ax = add_ax(867, 357, 1175, 567)
panel(ax, 13, [(f_pesm, f_pesm_err), (f_smsego, f_smsego_err), (f_parego, f_parego_err),
               (f_ts, f_ts_err), (f_ucb, f_ucb_err)], "Lin", (13.2, 117.8), (-0.8307, -0.7325), 0.02)

# sub-captions under each panel
cap_x = [193, 590, 993, 195, 590, 993]
cap_y = [309, 309, 309, 641, 641, 641]
for t, cx, cy in zip(captions, cap_x, cap_y):
    fig.text(cx / W, 1 - cy / H, t, family="cmr10", fontsize=17.7, ha="center", va="center",
             color="black")

fig.savefig("out.png", dpi=100, facecolor="white")
